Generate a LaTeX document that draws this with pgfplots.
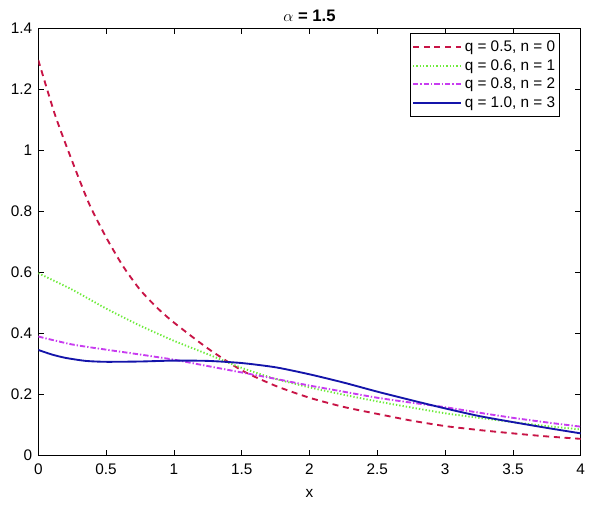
\documentclass[border=0pt]{standalone}
\usepackage{pgfplots}
\pgfplotsset{compat=1.18}
\usepackage{fontspec}
\setmainfont{Liberation Sans}
\definecolor{cred}{RGB}{200,20,70}
\definecolor{cgreen}{RGB}{110,235,60}
\definecolor{cmag}{RGB}{200,60,240}
\definecolor{cblue}{RGB}{20,20,170}
\begin{document}
\begin{tikzpicture}
\begin{axis}[
  scale only axis,
  width=406.8pt, height=319.7pt,
  xmin=0, xmax=4, ymin=0, ymax=1.4,
  xtick={0,0.5,...,4}, ytick={0,0.2,...,1.4},
  yticklabels={0,0.2,0.4,0.6,0.8,1,1.2,1.4},
  xticklabels={0,0.5,1,1.5,2,2.5,3,3.5,4},
  /pgf/number format/assume math mode=true,
  tick align=inside, tick pos=both,
  major tick length=4pt,
  tick style={black, line width=0.5pt},
  axis line style={line width=0.6pt},
  font=\fontsize{11.5}{13}\selectfont,
  ticklabel style={font=\fontsize{11.5}{13}\selectfont},
  xticklabel style={yshift=-3pt},
  yticklabel style={xshift=-1pt},
  xlabel={x},
  xlabel style={yshift=-4pt, font=\fontsize{11.5}{13}\selectfont},
  title={\bfseries $\alpha$ = 1.5},
  title style={yshift=-4pt, font=\fontsize{12.5}{14}\selectfont},
  legend cell align=left,
  legend style={at={(0.962,0.989)}, anchor=north east, draw=black, line width=0.5pt,
     font=\fontsize{11.5}{12.5}\selectfont, inner xsep=1.5pt, inner ysep=3.5pt, row sep=0.3pt},
  legend image code/.code={\draw[#1, line width=1.4pt] (0pt,0pt) -- (36pt,0pt);},
]
\addplot[cred, line width=1.4pt, dash pattern=on 4.5pt off 3.5pt, smooth, tension=0.4] coordinates {
(0,1.297) (0.125,1.115) (0.25,0.965) (0.375,0.825) (0.5,0.715) (0.625,0.62) (0.75,0.543) (0.875,0.484) (1.0,0.435) (1.25,0.35) (1.5,0.278) (1.75,0.227) (2.0,0.188) (2.25,0.158) (2.5,0.135) (2.75,0.113) (3.0,0.095) (3.25,0.082) (3.5,0.071) (3.75,0.061) (4.0,0.053)};
\addlegendentry{q = 0.5, n = 0}
\addplot[cgreen, line width=1.4pt, dash pattern=on 1pt off 1.5pt, smooth, tension=0.4] coordinates {
(0,0.597) (0.25,0.543) (0.5,0.481) (0.75,0.425) (1.0,0.375) (1.25,0.331) (1.5,0.286) (1.75,0.25) (2.0,0.222) (2.25,0.198) (2.5,0.176) (2.75,0.156) (3.0,0.137) (3.25,0.122) (3.5,0.108) (3.75,0.095) (4.0,0.084)};
\addlegendentry{q = 0.6, n = 1}
\addplot[cmag, line width=1.4pt, dash pattern=on 4pt off 1.5pt on 1pt off 1.5pt, smooth, tension=0.4] coordinates {
(0,0.389) (0.25,0.363) (0.5,0.346) (0.75,0.33) (1.0,0.313) (1.25,0.292) (1.5,0.271) (1.75,0.25) (2.0,0.228) (2.25,0.208) (2.5,0.188) (2.75,0.172) (3.0,0.157) (3.25,0.139) (3.5,0.122) (3.75,0.107) (4.0,0.093)};
\addlegendentry{q = 0.8, n = 2}
\addplot[cblue, line width=1.4pt, smooth, tension=0.4] coordinates {
(0,0.345) (0.1,0.33) (0.2,0.319) (0.35,0.309) (0.5,0.306) (0.75,0.307) (1.0,0.31) (1.25,0.309) (1.5,0.302) (1.75,0.288) (2.0,0.265) (2.25,0.238) (2.5,0.208) (2.75,0.18) (3.0,0.153) (3.25,0.128) (3.5,0.108) (3.75,0.089) (4.0,0.071)};
\addlegendentry{q = 1.0, n = 3}
\end{axis}
\path (current axis.south west) ++(-28.7pt,-42.75pt) coordinate (bbA);
\path (current axis.north east) ++(7.7pt,21.5pt) coordinate (bbB);
\useasboundingbox (bbA) rectangle (bbB);
\end{tikzpicture}
\end{document}
